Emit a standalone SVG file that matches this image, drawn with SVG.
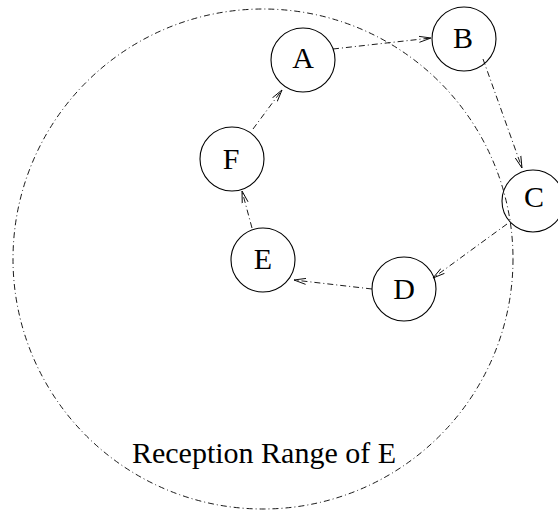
<svg xmlns="http://www.w3.org/2000/svg" width="558" height="510" viewBox="0 0 558 510">
<style>
.node{fill:none;stroke:#000;stroke-width:1.1}
.lbl{font-family:"Liberation Serif","Times New Roman",serif;font-size:30px;fill:#000;text-anchor:middle}
.edge{stroke:#000;stroke-width:0.9;fill:none;stroke-dasharray:6 3 1 3;marker-end:url(#arr)}
.range{stroke:#000;stroke-width:0.9;fill:none;stroke-dasharray:6 3 1 3}
</style>
<defs>
<marker id="arr" markerUnits="userSpaceOnUse" markerWidth="14" markerHeight="10" refX="12" refY="4" orient="auto" viewBox="0 0 14 8">
<path d="M0,1 L12,4 L0,7" fill="none" stroke="#000" stroke-width="0.9" stroke-dasharray="none"/>
</marker>
</defs>
<rect width="558" height="510" fill="#fff"/>
<g id="range">
<circle class="range" cx="263" cy="259" r="250"/>
<text class="lbl" x="264" y="463">Reception Range of E</text>
</g>
<g id="connectors">
<line class="edge" x1="333" y1="49" x2="431" y2="38"/>
<line class="edge" x1="483" y1="59" x2="522" y2="168"/>
<line class="edge" x1="507" y1="224" x2="433" y2="278"/>
<line class="edge" x1="372" y1="289" x2="294" y2="280"/>
<line class="edge" x1="252" y1="228" x2="242" y2="191"/>
<line class="edge" x1="253" y1="129" x2="282" y2="90"/>
</g>
<g id="A"><circle class="node" cx="303" cy="60" r="32"/><text class="lbl" x="303" y="68">A</text></g>
<g id="B"><circle class="node" cx="464" cy="39" r="32"/><text class="lbl" x="463" y="48">B</text></g>
<g id="C"><circle class="node" cx="533" cy="201" r="31"/><text class="lbl" x="534" y="207">C</text></g>
<g id="D"><circle class="node" cx="404" cy="289" r="32"/><text class="lbl" x="404" y="299">D</text></g>
<g id="E"><circle class="node" cx="263" cy="260" r="32"/><text class="lbl" x="263" y="269">E</text></g>
<g id="F"><circle class="node" cx="232" cy="159" r="32"/><text class="lbl" x="231" y="169">F</text></g>
</svg>
